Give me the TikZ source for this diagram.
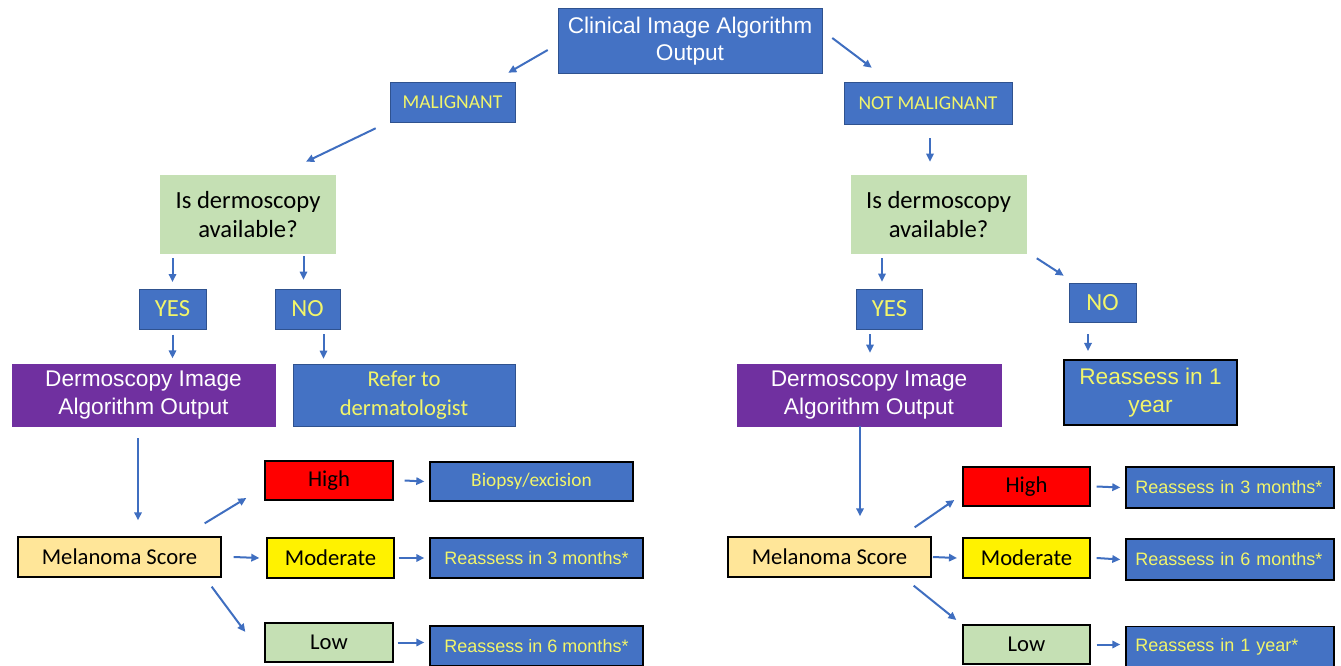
\documentclass[tikz,border=0pt]{standalone}
\usepackage{fontspec}
\setmainfont{Liberation Sans}
\newfontfamily\calib{Carlito}
\usetikzlibrary{arrows.meta}

\definecolor{pblue}{HTML}{4472C4}
\definecolor{pedge}{HTML}{2F528F}
\definecolor{ppurple}{HTML}{7030A0}
\definecolor{pgreen}{HTML}{C5E0B4}
\definecolor{porange}{HTML}{FFE699}
\definecolor{ptext}{HTML}{F2F56A}
\definecolor{parrow}{HTML}{3F6EC0}

\begin{document}
\begin{tikzpicture}[x=0.75pt,y=-0.75pt,
	blk/.style={draw=pedge,fill=pblue,inner sep=0pt,align=center},
	sbox/.style={draw=black,line width=1pt,inner sep=0pt,align=center},
	rbox/.style={sbox,fill=pblue,text=ptext,font=\fontsize{13.5}{16}\selectfont},
	arl/.style={font=\fontsize{17}{20.5}\selectfont},
	cal/.style={font=\calib\fontsize{#1}{22}\selectfont},
	com/.style={->,>={Triangle[length=6pt,width=5.5pt]},draw=parrow,line width=1.5pt}]
		\useasboundingbox (0,0) rectangle (1341,666);

		% top
		\node[blk,arl,text=white,minimum width=198pt,minimum height=48.75pt] (cio) at (690,41) {Clinical Image Algorithm\\Output};
		\node[blk,cal=14.7,text=ptext,minimum width=93.75pt,minimum height=30pt] (mal) at (452.5,102) {MALIGNANT};
		\node[blk,cal=14.7,text=ptext,minimum width=126pt,minimum height=31.5pt] (nmal) at (928,103) {NOT MALIGNANT};

		% malignant branch
		\node[fill=pgreen,inner sep=0pt,align=center,cal=18.5,minimum width=132pt,minimum height=59.25pt] (dql) at (248,214.5) {Is dermoscopy\\available?};
		\node[blk,cal=18.5,text=ptext,minimum width=50.25pt,minimum height=30pt] (yesl) at (172.5,309) {YES};
		\node[blk,cal=18.5,text=ptext,minimum width=48.75pt,minimum height=30pt] (nol) at (307.5,309) {NO};
		\node[draw=ppurple,fill=ppurple,inner sep=0pt,align=center,arl,text=white,minimum width=197.25pt,minimum height=46.5pt] (dial) at (143.5,395) {Dermoscopy Image\\Algorithm Output};
		\node[blk,cal=17,text=ptext,minimum width=166.5pt,minimum height=46.5pt] (ref) at (404,395) {Refer to\\dermatologist};
		\node[sbox,fill=porange,cal=17,minimum width=152.25pt,minimum height=30pt] (mell) at (119.5,557) {Melanoma Score};
		\node[sbox,fill=red,cal=17,minimum width=96pt,minimum height=29.25pt] (highl) at (329,480.5) {High};
		\node[sbox,fill=yellow,cal=17,minimum width=95.25pt,minimum height=30pt] (modl) at (330.5,558) {Moderate};
		\node[sbox,fill=pgreen,cal=17,minimum width=96pt,minimum height=29.25pt] (lowl) at (329,642.5) {Low};
		\node[sbox,fill=pblue,cal=14.5,text=ptext,minimum width=152.25pt,minimum height=29.25pt] (bio) at (531.5,481.5) {Biopsy/excision};
		\node[rbox,minimum width=159.75pt,minimum height=30pt] (r3l) at (536.5,558) {Reassess in 3 months*};
		\node[rbox,minimum width=159.75pt,minimum height=30pt] (r6l) at (536.5,646) {Reassess in 6 months*};

		% not malignant branch
		\node[fill=pgreen,inner sep=0pt,align=center,cal=18.5,minimum width=132pt,minimum height=59.25pt] (dqr) at (938.5,214.5) {Is dermoscopy\\available?};
		\node[blk,cal=18.5,text=ptext,minimum width=49.5pt,minimum height=30pt] (yesr) at (889.5,309) {YES};
		\node[blk,cal=18.5,text=ptext,minimum width=50.25pt,minimum height=29.25pt] (nor) at (1102.5,302.5) {NO};
		\node[draw=ppurple,fill=ppurple,inner sep=0pt,align=center,arl,text=white,minimum width=198pt,minimum height=46.5pt] (diar) at (869,395) {Dermoscopy Image\\Algorithm Output};
		\node[sbox,line width=1.5pt,fill=pblue,arl,text=ptext,minimum width=129.75pt,minimum height=48.75pt] (r1y) at (1150.5,392.5) {Reassess in 1\\year};
		\node[sbox,fill=porange,cal=17,minimum width=152.25pt,minimum height=30pt] (melr) at (829.5,557) {Melanoma Score};
		\node[sbox,fill=red,cal=17,minimum width=95.25pt,minimum height=29.25pt] (highr) at (1026.5,486.5) {High};
		\node[sbox,fill=yellow,cal=17,minimum width=95.25pt,minimum height=30pt] (modr) at (1026.5,558) {Moderate};
		\node[sbox,fill=pgreen,cal=17,minimum width=95.25pt,minimum height=29.25pt] (lowr) at (1026.5,644.5) {Low};
		\node[rbox,text width=142pt,inner xsep=7pt,align=left,minimum height=30.75pt] (r3r) at (1230,487.5) {Reassess in 3 months*};
		\node[rbox,text width=142pt,inner xsep=7pt,align=left,minimum height=30.75pt] (r6r) at (1230,559.5) {Reassess in 6 months*};
		\node[rbox,text width=142pt,inner xsep=7pt,align=left,minimum height=30pt] (r1r) at (1230,646.5) {Reassess in 1 year*};

		% arrows
		\draw[com] ([shift={(-10,9)}]cio.west) -- ([shift={(-7,-9)}]mal.north east);
		\draw[com] ([shift={(10,-3)}]cio.east) -- ([shift={(28,-14)}]nmal.north west);
		\draw[com] ([shift={(-14,6)}]mal.south west) -- ([shift={(58,-13)}]dql.north);
		\draw[com] ([shift={(2,14)}]nmal.south) -- ([shift={(-8.5,-13)}]dqr.north);

		\draw[com] ([yshift=-3pt]dql.south -| yesl) -- ([yshift=5pt]yesl.north);
		\draw[com] ([shift={(-4,2)}]dql.south -| nol) -- ([shift={(-4,-9)}]nol.north);
		\draw[com] ([yshift=-4pt]yesl.south) -- ([yshift=4pt]yesl.south |- dial.north);
		\draw[com] ([shift={(16,5)}]nol.south) -- ([shift={(16,-5)}]nol.south |- ref.north);
		\draw[com] ([shift={(-5.5,12)}]dial.south) -- ([shift={(-5.5,-16)}]dial.south |- mell.north);
		\draw[com] ([shift={(-17,-13)}]mell.north east) -- ([shift={(-18,17.5)}]highl.west);
		\draw[com] ([xshift=9pt]mell.east) -- ([xshift=-5.25pt]modl.west);
		\draw[com] ([shift={(-10,9)}]mell.south east) -- ([shift={(-19,-10.5)}]lowl.west);
		\draw[com] ([xshift=8.25pt]highl.east) -- ([xshift=-3.75pt]bio.west);
		\draw[com] ([xshift=3pt]modl.east) -- ([xshift=-3.75pt]r3l.west);
		\draw[com] ([xshift=3pt]lowl.east) -- ([xshift=-3.75pt]lowl.east -| r6l.west);

		\draw[com] ([shift={(-7.5,4)}]dqr.south -| yesr) -- ([shift={(-7.5,-7)}]yesr.north);
		\draw[com] ([shift={(10,4)}]dqr.south east) -- ([shift={(-5,-7)}]nor.north west);
		\draw[com] ([shift={(-19.5,5)}]yesr.south) -- ([shift={(-19.5,-11)}]yesr.south |- diar.north);
		\draw[com] ([shift={(-14.5,12)}]nor.south) -- ([shift={(-14.5,-8)}]nor.south |- r1y.north);
		\draw[com] ([xshift=-6.75pt]diar.south) -- ([shift={(-9,-20)}]diar.south |- melr.north);
		\draw[com] ([shift={(-17,-9)}]melr.north east) -- ([shift={(-8,13.5)}]highr.west);
		\draw[com] ([xshift=1pt]melr.east) -- ([xshift=-4pt]modr.west);
		\draw[com] ([shift={(-18,8)}]melr.south east) -- ([shift={(-6,-24.5)}]lowr.west);
		\draw[com] ([xshift=4.5pt]highr.east) -- ([xshift=-3.75pt]r3r.west);
		\draw[com] ([xshift=4.5pt]modr.east) -- ([xshift=-3.75pt]r6r.west);
		\draw[com] ([xshift=4.5pt]lowr.east) -- ([xshift=-3.75pt]lowr.east -| r1r.west);
	\end{tikzpicture}
\end{document}
